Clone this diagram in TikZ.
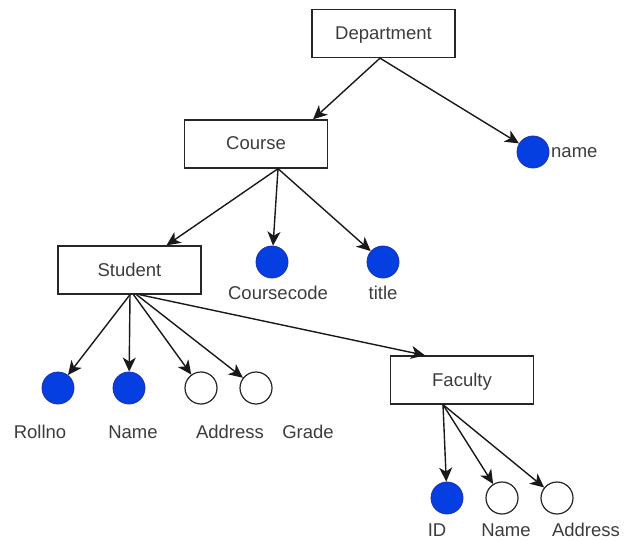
\documentclass[tikz,border=0pt]{standalone}
\usepackage{fontspec}
\setmainfont{Liberation Sans}
\usetikzlibrary{arrows.meta}
\definecolor{attrblue}{RGB}{5,62,225}
\definecolor{attredge}{RGB}{25,50,170}
\definecolor{txt}{RGB}{60,60,60}
\tikzset{
  ent/.style={draw=black!85, line width=1.3bp, minimum width=143bp, minimum height=48bp,
    inner sep=0pt, text=txt, text height=13bp, text depth=1bp, font=\fontsize{18.5bp}{22bp}\selectfont},
  keyattr/.style={circle, draw=attredge, line width=0.8bp, fill=attrblue, minimum size=32bp, inner sep=0pt},
  plainattr/.style={circle, draw=black!85, line width=1.2bp, fill=white, minimum size=32bp, inner sep=0pt},
  lbl/.style={text=txt, inner sep=0pt, font=\fontsize{18.5bp}{22bp}\selectfont},
  arr/.style={draw=black!90, line width=1.4bp, -{Stealth[length=14bp,width=13bp,inset=4bp]}}
}
\begin{document}
\begin{tikzpicture}[x=1bp,y=-1bp]
\useasboundingbox (0,0) rectangle (630,541);
% entities
\node[ent] (dep) at (383.5,33.5) {Department};
\node[ent] (course) at (256,144) {Course};
\node[ent] (student) at (129.5,270) {Student};
\node[ent] (faculty) at (462,380) {Faculty};
% attributes
\node[keyattr] (dname) at (533,152) {};
\node[keyattr] (ccode) at (272,262) {};
\node[keyattr] (title) at (383,262) {};
\node[keyattr] (roll) at (58,388) {};
\node[keyattr] (sname) at (129,388) {};
\node[plainattr] (saddr) at (201,388) {};
\node[plainattr] (grade) at (256,388) {};
\node[keyattr] (fid) at (447,498) {};
\node[plainattr] (fname) at (502,498) {};
\node[plainattr] (faddr) at (557,498) {};
% labels
\node[lbl, anchor=west] (ldname) at (551,153) {name};
\node[lbl] (lccode) at (278,293) {Coursecode};
\node[lbl] (ltitle) at (383,293) {title};
\node[lbl] (lroll) at (40,432) {Rollno};
\node[lbl] (lsname) at (133,432) {Name};
\node[lbl] (lsaddr) at (230,432) {Address};
\node[lbl] (lgrade) at (308,432) {Grade};
\node[lbl] (lfid) at (437,530) {ID};
\node[lbl] (lfname) at (506,530) {Name};
\node[lbl] (lfaddr) at (586,530) {Address};
% connectors
\draw[arr] ([xshift=-3.5bp]dep.south) -- ([xshift=57bp]course.north);
\draw[arr] ([xshift=-3.5bp]dep.south) -- (dname);
\draw[arr] ([xshift=22bp]course.south) -- ([xshift=37bp]student.north);
\draw[arr] ([xshift=22bp]course.south) -- (ccode);
\draw[arr] ([xshift=22bp]course.south) -- (title);
\draw[arr] ([xshift=0.5bp]student.south) -- (roll);
\draw[arr] ([xshift=0.5bp]student.south) -- (sname);
\draw[arr] ([xshift=4bp]student.south) -- (saddr);
\draw[arr] ([xshift=7bp]student.south) -- (grade);
\draw[arr] ([xshift=10bp]student.south) -- ([xshift=-37bp]faculty.north);
\draw[arr] ([xshift=-19bp]faculty.south) -- (fid);
\draw[arr] ([xshift=-19bp]faculty.south) -- (fname);
\draw[arr] ([xshift=-19bp]faculty.south) -- (faddr);
\end{tikzpicture}
\end{document}
